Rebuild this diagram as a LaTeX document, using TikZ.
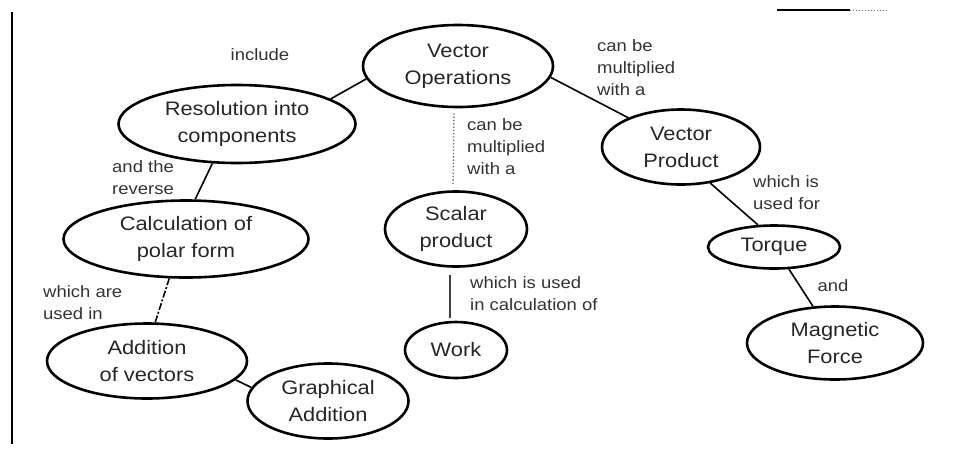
\documentclass[tikz,border=0pt]{standalone}
\usepackage{fontspec}
\setmainfont{Liberation Sans}[FakeStretch=1.12]
\usetikzlibrary{shapes.geometric}
\tikzset{
  concept/.style={ellipse, draw=black, line width=2.6pt, inner sep=0pt, align=center,
    font=\fontsize{19.5}{27}\selectfont, text=black!85},
  lbl/.style={align=left, anchor=west, font=\fontsize{16.5}{22}\selectfont, text=black!80, inner sep=0pt},
  link/.style={draw=black, line width=1.6pt},
  dotlink/.style={draw=black!60, line width=1.3pt, dotted},
  dashlink/.style={draw=black, line width=1.6pt, dash pattern=on 7pt off 2pt on 2pt off 2pt},
  thinlink/.style={draw=black!75, line width=1.2pt}
}
\begin{document}
\begin{tikzpicture}[x=1pt,y=-1pt]
\useasboundingbox (0,0) rectangle (965,448);
% frame remnants
\coordinate (fa) at (12,12); \coordinate (fb) at (12,444);
\draw[line width=2.8pt] (fa) -- (fb);
\coordinate (ta) at (777,10); \coordinate (tb) at (850,10); \coordinate (tc) at (888,10);
\draw[line width=1.6pt] (ta) -- (tb);
\draw[line width=1pt, black!50, dotted] (tb) -- (tc);

% concepts
\node[concept, minimum width=190pt, minimum height=82pt] (vo) at (458,66) {Vector\\Operations};
\node[concept, minimum width=237pt, minimum height=78pt] (res) at (237,124) {Resolution into\\components};
\node[concept, minimum width=245pt, minimum height=77pt] (calc) at (186,239) {Calculation of\\polar form};
\node[concept, minimum width=158pt, minimum height=75pt] (vp) at (681,147) {Vector\\Product};
\node[concept, minimum width=142pt, minimum height=75pt] (sp) at (456,229) {Scalar\\product};
\node[concept, minimum width=132pt, minimum height=43pt] (tq) at (774,247) {Torque};
\node[concept, minimum width=102pt, minimum height=56pt] (wk) at (456,350) {Work};
\node[concept, minimum width=200pt, minimum height=75pt] (add) at (147,361) {Addition\\of vectors};
\node[concept, minimum width=161pt, minimum height=75pt] (ga) at (328,401) {Graphical\\Addition};
\node[concept, minimum width=176pt, minimum height=73pt] (mf) at (835,343) {Magnetic\\Force};

% connectors
\draw[link] (res.15) -- (vo.188);
\draw[link] (vo.-7) -- (vp.151);
\draw[link] (res.-122) -- (calc.77);
\draw[dashlink] (calc.-113) -- (add.78);
\draw[link] (add.-12) -- (ga.170);
\draw[dotlink, shorten <=5pt, shorten >=6pt] ([xshift=-4pt]vo.south) -- ([xshift=-3pt]sp.north);
\draw[thinlink, shorten <=7pt, shorten >=3pt] ([xshift=-6pt]sp.south) -- ([xshift=-6pt]wk.north);
\draw[link] (vp.-51) -- (tq.126);
\draw[link] (tq.-56) -- (mf.121);

% labels
\node[lbl, anchor=center] (l1) at (260,55) {include};
\node[lbl] (l2) at (597,68) {can be\\multiplied\\with a};
\node[lbl] (l3) at (467,147) {can be\\multiplied\\with a};
\node[lbl] (l4) at (112,178) {and the\\reverse};
\node[lbl] (l5) at (753,193) {which is\\used for};
\node[lbl] (l6) at (43,303) {which are\\used in};
\node[lbl] (l7) at (470,294) {which is used\\in calculation of};
\node[lbl, anchor=center] (l8) at (833,286) {and};
\end{tikzpicture}
\end{document}
